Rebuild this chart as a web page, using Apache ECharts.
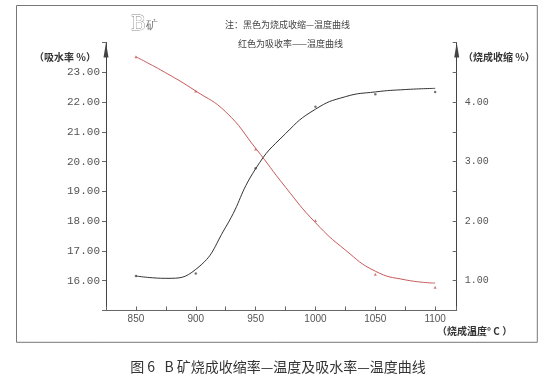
<!DOCTYPE html>
<html>
<head>
<meta charset="utf-8">
<script src="https://cdn.jsdelivr.net/npm/echarts@6/dist/echarts.min.js"></script>
<style>
html,body{margin:0;padding:0;background:#fff;}
#chart{width:543px;height:381px;}
</style>
</head>
<body>
<div id="chart"></div>
<script>
// Smoothed curves
const absorptionTemps = [850, 875, 900, 925, 950, 975, 1000, 1025, 1050, 1075, 1100];
const absorptionCurve = [23.52, 22.98, 22.37, 21.67, 20.45, 19.14, 17.95, 17.03, 16.32, 16.03, 15.92];
const shrinkTemps = [850, 875, 900, 925, 950, 975, 1000, 1025, 1050, 1075, 1100];
const shrinkCurve = [1.08, 1.04, 1.19, 1.90, 2.88, 3.47, 3.88, 4.09, 4.17, 4.21, 4.23];
// Measured points
const pointTemps = [850, 900, 950, 1000, 1050, 1100];
const absorptionPoints = [23.52, 22.37, 20.42, 18.02, 16.22, 15.78];
const shrinkPoints = [1.08, 1.12, 2.89, 3.92, 4.13, 4.17];
// Tick labels
const xTickLabels = [850, 900, 950, 1000, 1050, 1100];
const leftTickLabels = [16, 17, 18, 19, 20, 21, 22, 23];
const rightTickLabels = [1, 2, 3, 4];

const zip = (xs, ys) => xs.map((x, i) => [x, ys[i]]);
const RED = '#c85a5a';
const BLACK = '#333';
const AXIS = '#666';

const chart = echarts.init(document.getElementById('chart'), null, {renderer: 'canvas'});
chart.setOption({
  animation: false,
  backgroundColor: '#fff',
  grid: {left: 106, right: 86.3, top: 42.5, bottom: 70.5, containLabel: false},
  xAxis: {
    type: 'value', min: 825, max: 1118, interval: 25,
    axisLine: {lineStyle: {color: AXIS, width: 1}},
    axisTick: {inside: true, length: 4, lineStyle: {color: AXIS}},
    axisLabel: {
      margin: 4, color: '#555', fontSize: 10, fontFamily: 'Liberation Sans',
      showMinLabel: true, showMaxLabel: true,
      formatter: v => xTickLabels.includes(v) ? String(v) : ''
    },
    splitLine: {show: false}
  },
  yAxis: [
    {
      type: 'value', position: 'left', min: 15, max: 24, interval: 1,
      axisLine: {show: true, symbol: ['none', 'triangle'], symbolSize: [5, 15], symbolOffset: [0, -7.5], lineStyle: {color: '#444'}},
      axisTick: {show: true, length: 4, lineStyle: {color: AXIS}},
      axisLabel: {
        margin: 6, color: '#555', fontSize: 11, fontFamily: 'Liberation Mono',
        formatter: v => leftTickLabels.includes(v) ? v.toFixed(2) : ''
      },
      splitLine: {show: false}
    },
    {
      type: 'value', position: 'right', min: 0.5, max: 5, interval: 0.5,
      axisLine: {show: true, symbol: ['none', 'triangle'], symbolSize: [5, 15], symbolOffset: [0, -7.5], lineStyle: {color: '#444'}},
      axisTick: {show: true, inside: true, length: 4, lineStyle: {color: AXIS}},
      axisLabel: {
        margin: 8, color: '#555', fontSize: 10, fontFamily: 'Liberation Mono',
        formatter: v => rightTickLabels.includes(v) ? v.toFixed(2) : ''
      },
      splitLine: {show: false}
    }
  ],
  series: [
    {
      name: '吸水率', type: 'line', yAxisIndex: 0, smooth: 0.5,
      showSymbol: false, data: zip(absorptionTemps, absorptionCurve),
      lineStyle: {color: RED, width: 1}
    },
    {
      name: '烧成收缩', type: 'line', yAxisIndex: 1, smooth: 0.5,
      showSymbol: false, data: zip(shrinkTemps, shrinkCurve),
      lineStyle: {color: BLACK, width: 1}
    },
    {
      name: '吸水率点', type: 'scatter', yAxisIndex: 0, symbol: 'triangle', symbolSize: 3,
      data: zip(pointTemps, absorptionPoints), itemStyle: {color: RED}
    },
    {
      name: '烧成收缩点', type: 'scatter', yAxisIndex: 1, symbol: 'circle', symbolSize: 2.5,
      data: zip(pointTemps, shrinkPoints), itemStyle: {color: '#555'}
    }
  ],
  graphic: [
    {type: 'rect', z: -1, shape: {x: 16.5, y: 5.5, width: 520.8, height: 336.8}, style: {fill: 'none', stroke: '#777', lineWidth: 1}},
    {type: 'text', x: 131, y: 25, style: {text: 'B', font: '20px "DejaVu Serif"', fill: '#fff', stroke: '#888', lineWidth: 0.8, align: 'left', verticalAlign: 'middle'}},
    {type: 'text', x: 146, y: 26, style: {text: '矿', font: '14px "Noto Sans CJK SC"', fontWeight: 300, fill: '#777', align: 'left', verticalAlign: 'middle'}},
    {type: 'text', x: 225, y: 25, style: {text: '注：黑色为烧成收缩—温度曲线', font: '9px "Noto Sans CJK SC"', fill: '#444', align: 'left', verticalAlign: 'middle'}},
    {type: 'text', x: 238, y: 43.5, style: {text: '红色为吸收率——温度曲线', font: '9px "Noto Sans CJK SC"', fill: '#444', align: 'left', verticalAlign: 'middle'}},
    {type: 'text', x: 34, y: 57, style: {text: '（吸水率 %）', font: 'bold 10px "Noto Sans CJK SC"', fill: '#333', align: 'left', verticalAlign: 'middle'}},
    {type: 'text', x: 463, y: 57, style: {text: '（烧成收缩 %）', font: 'bold 10px "Noto Sans CJK SC"', fill: '#333', align: 'left', verticalAlign: 'middle'}},
    {type: 'text', x: 437, y: 331, style: {text: '（烧成温度° C ）', font: 'bold 10px "Noto Sans CJK SC"', fill: '#333', align: 'left', verticalAlign: 'middle'}},
    {type: 'text', x: 278, y: 367, style: {text: '图 6   B 矿烧成收缩率—温度及吸水率—温度曲线', font: '14px "Noto Sans CJK SC"', fill: '#333', align: 'center', verticalAlign: 'middle'}}
  ]
});
</script>
</body>
</html>
